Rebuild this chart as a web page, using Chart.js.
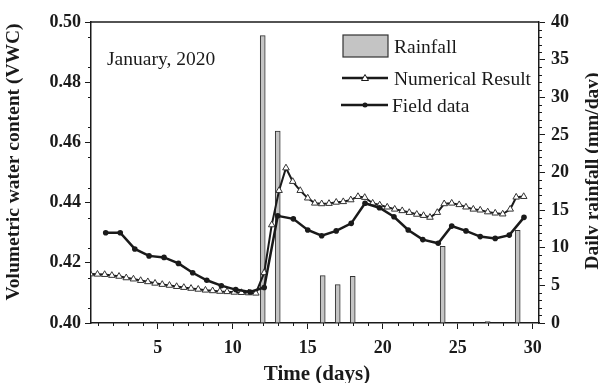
<!DOCTYPE html>
<html>
<head>
<meta charset="utf-8">
<script src="https://cdn.jsdelivr.net/npm/chart.js@4.4.1/dist/chart.umd.min.js"></script>
<style>
  html, body { margin: 0; padding: 0; background: #fff; }
  canvas { display: block; }
</style>
</head>
<body>
<canvas id="vwcChart" width="598" height="383"></canvas>
<script>
// field measurements (day, VWC)
const fieldDays = [1.53, 2.5, 3.47, 4.42, 5.42, 6.38, 7.33, 8.27, 9.24, 10.2, 11.15, 12.1, 13.0, 14.04, 15.0,
    15.93, 16.9, 17.9, 18.82, 19.78, 20.75, 21.7, 22.67, 23.7, 24.6, 25.55, 26.5, 27.5, 28.44, 29.42];
const fieldVwc = [0.4300, 0.4300, 0.4246, 0.4223, 0.4218, 0.4198, 0.4167, 0.4142, 0.4124, 0.4111, 0.4103, 0.4118, 0.4356, 0.4346, 0.4309,
    0.4290, 0.4306, 0.4331, 0.4398, 0.4383, 0.4353, 0.4309, 0.4277, 0.4265, 0.4322, 0.4306, 0.4287, 0.4281, 0.4292, 0.4351];

// numerical result (day, VWC)
const numDays = [0.5, 0.98, 1.46, 1.94, 2.42, 2.9, 3.38, 3.86, 4.34, 4.82, 5.3, 5.78, 6.26, 6.74, 7.22, 7.7, 8.18, 8.66,
    9.14, 9.62, 10.1, 10.58, 11.06, 11.54, 12.1, 12.6, 13.09, 13.55, 14.0, 14.5, 15.0, 15.47, 15.93, 16.42, 16.9,
    17.37, 17.87, 18.35, 18.8, 19.33, 19.8, 20.3, 20.8, 21.3, 21.77, 22.27, 22.72, 23.15, 23.64, 24.1, 24.6, 25.1,
    25.55, 26.04, 26.5, 27.0, 27.5, 28.0, 28.5, 28.9, 29.4];
const numVwc = [0.4163, 0.4162, 0.4161, 0.4158, 0.4155, 0.4150, 0.4146, 0.4141, 0.4137, 0.4132, 0.4128, 0.4125, 0.4121, 0.4118, 0.4115, 0.4112, 0.4109, 0.4107,
    0.4105, 0.4104, 0.4102, 0.4101, 0.4100, 0.4099, 0.4167, 0.4326, 0.4440, 0.4515, 0.4470, 0.4440, 0.4415, 0.4398, 0.4396, 0.4397, 0.4401,
    0.4403, 0.4409, 0.4420, 0.4417, 0.4398, 0.4392, 0.4385, 0.4378, 0.4373, 0.4367, 0.4361, 0.4357, 0.4351, 0.4367, 0.4396, 0.4398, 0.4393,
    0.4385, 0.4378, 0.4375, 0.4369, 0.4365, 0.4362, 0.4378, 0.4418, 0.4420];

// daily rainfall
const rainDays = [12, 13, 16, 17, 18, 24, 27, 29];
const rainMm = [38.2, 25.5, 6.3, 5.1, 6.2, 10.2, 0.2, 12.3];

const dayTicks = [5, 10, 15, 20, 25, 30];
const vwcTicks = [0.40, 0.42, 0.44, 0.46, 0.48, 0.50];
const rainTicks = [0, 5, 10, 15, 20, 25, 30, 35, 40];

const INK = '#1a1a1a';
const SERIF = '"Liberation Serif", "Times New Roman", serif';

Chart.defaults.font.family = SERIF;
Chart.defaults.color = INK;

function toXY(xs, ys) {
    return xs.map((x, i) => ({ x: x, y: ys[i] }));
}

const decor = {
    id: 'decor',
    afterDraw(chart) {
        const { ctx, chartArea: a, scales } = chart;
        ctx.save();
        ctx.strokeStyle = INK;

        // top frame
        ctx.lineWidth = 1.5;
        ctx.beginPath();
        ctx.moveTo(a.left, a.top);
        ctx.lineTo(a.right, a.top);
        ctx.stroke();

        // minor ticks
        ctx.lineWidth = 1;
        ctx.beginPath();
        for (let d = 1; d <= 30; d++) {
            if (d % 5 === 0) continue;
            const x = Math.round(scales.x.getPixelForValue(d)) + 0.5;
            ctx.moveTo(x, a.bottom);
            ctx.lineTo(x, a.bottom + 3);
        }
        for (let k = 0; k < 10; k++) {
            const y = Math.round(scales.y.getPixelForValue(0.405 + k * 0.01)) + 0.5;
            ctx.moveTo(a.left, y);
            ctx.lineTo(a.left - 3, y);
        }
        for (let r = 1; r < 40; r++) {
            if (r % 5 === 0) continue;
            const y = Math.round(scales.y2.getPixelForValue(r)) + 0.5;
            ctx.moveTo(a.right, y);
            ctx.lineTo(a.right + 3, y);
        }
        ctx.stroke();

        ctx.fillStyle = INK;
        ctx.textBaseline = 'alphabetic';

        // month note
        ctx.font = '19.5px ' + SERIF;
        ctx.textAlign = 'left';
        ctx.fillText('January, 2020', 107, 65);

        // legend
        ctx.fillStyle = '#c4c4c4';
        ctx.fillRect(343, 35, 45, 22);
        ctx.strokeStyle = '#333';
        ctx.lineWidth = 1.2;
        ctx.strokeRect(343, 35, 45, 22);
        ctx.fillStyle = INK;
        ctx.fillText('Rainfall', 394, 53);

        ctx.strokeStyle = INK;
        ctx.lineWidth = 2.5;
        ctx.beginPath();
        ctx.moveTo(342, 78);
        ctx.lineTo(388, 78);
        ctx.stroke();
        ctx.fillStyle = '#fff';
        ctx.lineWidth = 1;
        ctx.beginPath();
        ctx.moveTo(365, 74.5);
        ctx.lineTo(368.5, 80.5);
        ctx.lineTo(361.5, 80.5);
        ctx.closePath();
        ctx.fill();
        ctx.stroke();
        ctx.fillStyle = INK;
        ctx.fillText('Numerical Result', 394, 85);

        ctx.lineWidth = 2.5;
        ctx.beginPath();
        ctx.moveTo(341, 105);
        ctx.lineTo(388, 105);
        ctx.stroke();
        ctx.beginPath();
        ctx.arc(365, 105, 2.5, 0, Math.PI * 2);
        ctx.fill();
        ctx.fillText('Field data', 392, 112);

        // axis titles
        ctx.font = 'bold 21px ' + SERIF;
        ctx.textAlign = 'center';
        ctx.fillText('Time (days)', 317, 380);

        ctx.font = 'bold 19.5px ' + SERIF;
        ctx.save();
        ctx.translate(19, 162);
        ctx.rotate(-Math.PI / 2);
        ctx.fillText('Volumetric water content (VWC)', 0, 0);
        ctx.restore();

        ctx.save();
        ctx.translate(598, 171);
        ctx.rotate(-Math.PI / 2);
        ctx.fillText('Daily rainfall (mm/day)', 0, 0);
        ctx.restore();

        ctx.restore();
    }
};

const ctx = document.getElementById('vwcChart').getContext('2d');
new Chart(ctx, {
    type: 'line',
    data: {
        datasets: [
            {
                label: 'Field data',
                data: toXY(fieldDays, fieldVwc),
                yAxisID: 'y',
                borderColor: INK,
                borderWidth: 2.5,
                pointRadius: 2.8,
                pointBackgroundColor: INK,
                pointBorderColor: INK,
                pointBorderWidth: 0,
                tension: 0,
                order: 1
            },
            {
                label: 'Numerical Result',
                data: toXY(numDays, numVwc),
                yAxisID: 'y',
                borderColor: INK,
                borderWidth: 2,
                pointStyle: 'triangle',
                pointRadius: 3.8,
                pointBackgroundColor: '#fff',
                pointBorderColor: '#333',
                pointBorderWidth: 1,
                tension: 0,
                order: 2
            },
            {
                type: 'bar',
                label: 'Rainfall',
                data: toXY(rainDays, rainMm),
                yAxisID: 'y2',
                backgroundColor: '#c4c4c4',
                borderColor: '#333',
                borderWidth: 1,
                barThickness: 5,
                order: 3
            }
        ]
    },
    options: {
        responsive: false,
        animation: false,
        devicePixelRatio: 1,
        layout: { padding: { top: 22, left: 0, right: 0, bottom: 0 } },
        plugins: {
            legend: { display: false },
            tooltip: { enabled: false }
        },
        scales: {
            x: {
                type: 'linear',
                min: 0.55,
                max: 30.42,
                offset: false,
                afterFit(s) { s.height = 60; },
                afterBuildTicks(s) { s.ticks = dayTicks.map(v => ({ value: v })); },
                grid: { drawOnChartArea: false, tickLength: 6, color: INK, lineWidth: 1, offset: false },
                border: { display: true, color: INK, width: 1.5 },
                ticks: { font: { size: 18, weight: 'bold' }, padding: 9, maxRotation: 0 }
            },
            y: {
                type: 'linear',
                position: 'left',
                min: 0.40,
                max: 0.50,
                afterFit(s) { s.width = 91; },
                afterBuildTicks(s) { s.ticks = vwcTicks.map(v => ({ value: v })); },
                grid: { drawOnChartArea: false, tickLength: 6, color: INK, lineWidth: 1 },
                border: { display: true, color: INK, width: 1.5 },
                ticks: { font: { size: 18, weight: 'bold' }, padding: 4, callback: v => v.toFixed(2) }
            },
            y2: {
                type: 'linear',
                position: 'right',
                min: 0,
                max: 40,
                afterFit(s) { s.width = 59; },
                afterBuildTicks(s) { s.ticks = rainTicks.map(v => ({ value: v })); },
                grid: { drawOnChartArea: false, tickLength: 6, color: INK, lineWidth: 1 },
                border: { display: true, color: INK, width: 1.5 },
                ticks: { font: { size: 18, weight: 'bold' }, padding: 6 }
            }
        }
    },
    plugins: [decor]
});
</script>
</body>
</html>
